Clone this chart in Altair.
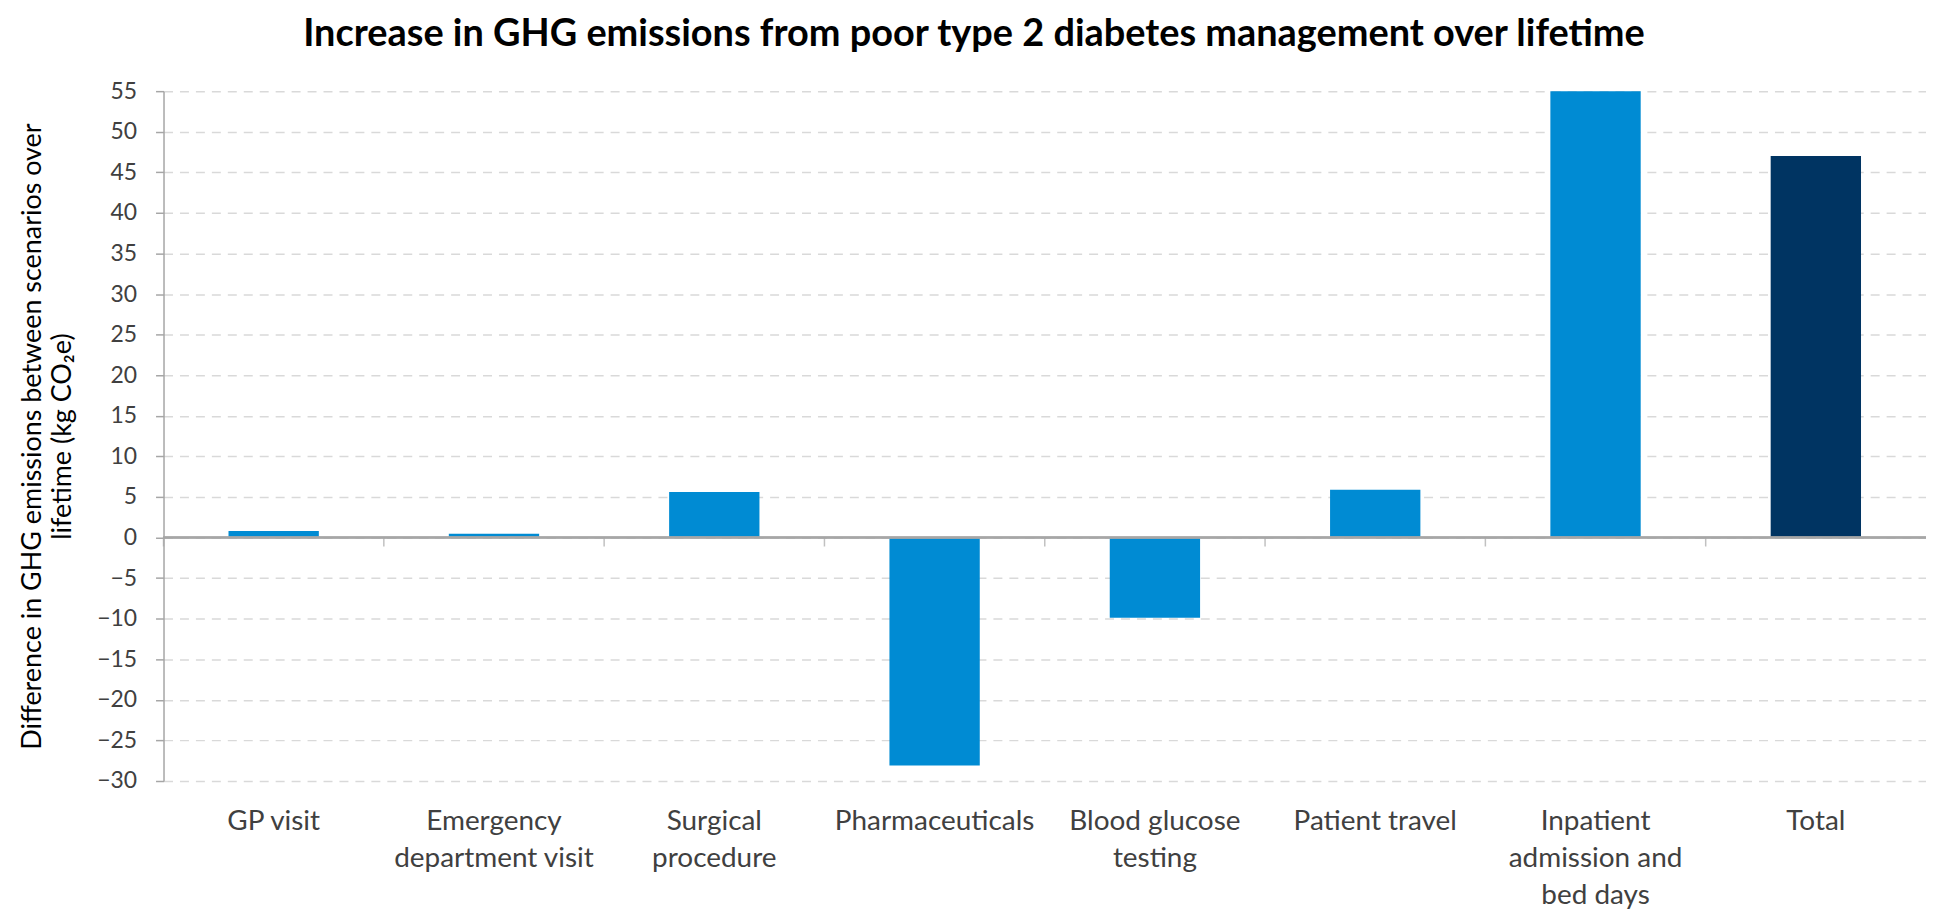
import altair as alt
import pandas as pd

categories = [
    "GP visit",
    "Emergency\ndepartment visit",
    "Surgical\nprocedure",
    "Pharmaceuticals",
    "Blood glucose\ntesting",
    "Patient travel",
    "Inpatient\nadmission and\nbed days",
    "Total",
]
values = [0.8, 0.45, 5.6, -28.1, -9.9, 5.9, 55.0, 47.0]
kinds = ["Component", "Component", "Component", "Component",
         "Component", "Component", "Component", "Total"]
y_ticks = [-30, -25, -20, -15, -10, -5, 0, 5, 10, 15, 20, 25, 30, 35, 40, 45, 50, 55]

df = pd.DataFrame({"cat": categories, "val": values, "kind": kinds})

FONT = "Lato"
GRAY = "#A6A6A6"

x_enc = alt.X(
    "cat:N",
    sort=categories,
    scale=alt.Scale(paddingInner=0, paddingOuter=0),
    axis=alt.Axis(
        title=None,
        labelAngle=0,
        domain=False,
        ticks=False,
        labelExpr="split(datum.label, '\\n')",
        labelFont=FONT,
        labelFontSize=28,
        labelColor="#404040",
        labelPadding=27,
        labelLineHeight=37,
        labelBaseline="top",
        labelLimit=600,
    ),
)

y_enc = alt.Y(
    "val:Q",
    scale=alt.Scale(domain=[-30, 55], nice=False, zero=False),
    axis=alt.Axis(
        title=["Difference in GHG emissions between scenarios over", "lifetime (kg CO\u2082e)"],
        titleFont=FONT,
        titleFontSize=27,
        titleFontWeight="normal",
        titleColor="#000000",
        titleLineHeight=30,
        titlePadding=20,
        values=y_ticks,
        labelFont=FONT,
        labelFontSize=23,
        labelColor="#404040",
        labelPadding=19,
        tickSize=8,
        tickColor=GRAY,
        tickWidth=1.5,
        domainColor=GRAY,
        domainWidth=1.5,
        grid=True,
        gridColor="#D9D9D9",
        gridDash=[9, 7],
        gridWidth=1.5,
    ),
)

bars = alt.Chart(df).mark_bar(width=alt.RelativeBandSize(0.41)).encode(
    x=x_enc,
    y=y_enc,
    color=alt.Color(
        "kind:N",
        scale=alt.Scale(domain=["Component", "Total"], range=["#008BD3", "#003462"]),
        legend=None,
    ),
)

zero_line = alt.Chart(df).mark_rule(color=GRAY, strokeWidth=1.5).encode(
    y=alt.datum(0),
)

boundary_ticks = alt.Chart(df).mark_tick(
    orient="vertical", color=GRAY, size=9, thickness=1.5, yOffset=4.5
).encode(
    x=alt.X("cat:N", sort=categories, bandPosition=0),
    y=alt.datum(0),
)

chart = alt.layer(bars, zero_line, boundary_ticks).properties(
    width=1768,
    height=692,
    autosize=alt.AutoSizeParams(type="none"),
    padding={"left": 156, "top": 82, "right": 0, "bottom": 132},
    title=alt.TitleParams(
        "Increase in GHG emissions from poor type 2 diabetes management over lifetime",
        font=FONT,
        fontSize=38,
        fontWeight="bold",
        color="#000000",
        anchor="middle",
        offset=26,
        dx=-71,
    ),
).configure_view(stroke=None)

chart.save("out.html", embed_options={"renderer": "svg", "actions": False})
